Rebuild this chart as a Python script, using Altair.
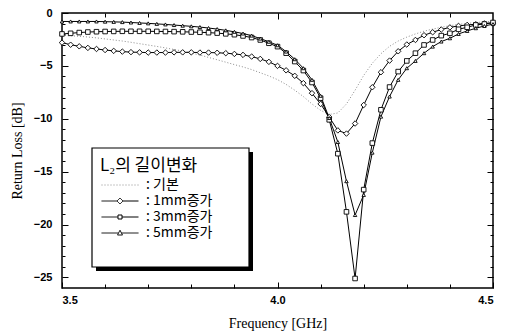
import altair as alt
import pandas as pd

freq = [3.50, 3.52, 3.54, 3.56, 3.58, 3.60, 3.62, 3.64, 3.66, 3.68,
        3.70, 3.72, 3.74, 3.76, 3.78, 3.80, 3.82, 3.84, 3.86, 3.88,
        3.90, 3.92, 3.94, 3.96, 3.98, 4.00, 4.02, 4.04, 4.06, 4.08,
        4.10, 4.12, 4.14, 4.16, 4.18, 4.20, 4.22, 4.24, 4.26, 4.28,
        4.30, 4.32, 4.34, 4.36, 4.38, 4.40, 4.42, 4.44, 4.46, 4.48, 4.50]

rl_base = [-2.10, -2.15, -2.20, -2.27, -2.35, -2.45, -2.55, -2.65, -2.77, -2.90,
           -3.03, -3.16, -3.30, -3.45, -3.60, -3.78, -3.98, -4.20, -4.42, -4.65,
           -4.88, -5.10, -5.35, -5.65, -5.95, -6.30, -6.75, -7.30, -7.90, -8.60,
           -9.20, -9.60, -9.45, -8.60, -7.30, -5.90, -4.75, -3.85, -3.15, -2.65,
           -2.28, -1.98, -1.72, -1.52, -1.35, -1.20, -1.08, -0.98, -0.90, -0.84, -0.78]

rl_1mm = [-2.80, -3.00, -3.15, -3.30, -3.40, -3.50, -3.58, -3.65, -3.70, -3.72,
          -3.74, -3.74, -3.74, -3.72, -3.72, -3.72, -3.74, -3.74, -3.76, -3.80,
          -3.87, -3.96, -4.12, -4.34, -4.62, -5.00, -5.42, -5.94, -6.63, -7.58,
          -8.60, -9.84, -11.10, -11.40, -10.45, -8.70, -7.02, -5.60, -4.50, -3.62,
          -2.98, -2.55, -2.10, -1.82, -1.56, -1.36, -1.22, -1.13, -1.06, -0.98, -0.95]

rl_3mm = [-1.98, -1.92, -1.85, -1.80, -1.77, -1.75, -1.74, -1.73, -1.73, -1.73,
          -1.73, -1.74, -1.75, -1.76, -1.78, -1.80, -1.82, -1.86, -1.90, -1.97,
          -2.05, -2.17, -2.32, -2.55, -2.86, -3.18, -3.80, -4.59, -5.44, -6.57,
          -8.05, -10.10, -13.30, -18.80, -25.10, -16.70, -12.30, -9.15, -7.00, -5.54,
          -4.53, -3.80, -3.02, -2.55, -2.14, -1.92, -1.54, -1.35, -1.13, -1.04, -0.90]

rl_5mm = [-0.80, -0.80, -0.80, -0.80, -0.80, -0.82, -0.84, -0.86, -0.90, -0.94,
          -0.98, -1.03, -1.08, -1.14, -1.20, -1.26, -1.33, -1.42, -1.52, -1.64,
          -1.78, -1.94, -2.14, -2.42, -2.72, -3.05, -3.65, -4.37, -5.22, -6.32,
          -7.83, -9.93, -12.20, -15.90, -19.10, -17.20, -13.20, -9.80, -7.90, -6.32,
          -5.22, -4.53, -3.80, -3.18, -2.70, -2.39, -1.98, -1.70, -1.44, -1.23, -1.05]

series_names = ["기본", "1mm증가", "3mm증가", "5mm증가"]
marker_series = ["1mm증가", "3mm증가", "5mm증가"]

x_major = [3.5, 4.0, 4.5]
x_minor = [3.6, 3.7, 3.8, 3.9, 4.1, 4.2, 4.3, 4.4]
x_top = [3.6, 3.7, 3.8, 3.9, 4.0, 4.1, 4.2, 4.3, 4.4]
y_major = [0, -5, -10, -15, -20, -25]
y_minor = [-1, -2, -3, -4, -6, -7, -8, -9, -11, -12, -13, -14, -16, -17, -18, -19,
           -21, -22, -23, -24]
y_right = [-1, -2, -3, -4, -5, -6, -7, -8, -9, -10, -11, -12, -13, -14, -15, -16, -17,
           -18, -19, -20, -21, -22, -23, -24, -25]

rows = []
for name, vals in zip(series_names, [rl_base, rl_1mm, rl_3mm, rl_5mm]):
    for f, v in zip(freq, vals):
        rows.append({"f": f, "rl": v, "series": name})
df = pd.DataFrame(rows)

KR = "Noto Sans CJK KR"
xs = alt.Scale(domain=[3.5, 4.5], nice=False, zero=False)
ys = alt.Scale(domain=[-26, 0], nice=False, zero=False)


def tick_axis(orient, values, size):
    return alt.Axis(orient=orient, values=values, tickSize=alt.ExprRef(expr=str(-size)),
                    labels=False, title=None, domain=False, grid=False, ticks=True)


x_main = alt.Axis(orient="bottom", values=x_major, format=".1f",
                  tickSize=alt.ExprRef(expr="-6"), labelPadding=12,
                  title="Frequency [GHz]", titlePadding=11, domain=False, grid=False)
y_main = alt.Axis(orient="left", values=y_major, format="d",
                  tickSize=alt.ExprRef(expr="-6"), labelPadding=16,
                  title="Return Loss [dB]", titlePadding=9, domain=False, grid=False)

base_line = alt.Chart(df).transform_filter(alt.datum.series == "기본").mark_line(
    color="#8c8c8c", strokeWidth=1, strokeDash=[1, 2]
).encode(
    x=alt.X("f:Q", scale=xs, axis=x_main),
    y=alt.Y("rl:Q", scale=ys, axis=y_main),
)

lines = alt.Chart(df).transform_filter(alt.datum.series != "기본").mark_line(
    color="black", strokeWidth=1
).encode(
    x=alt.X("f:Q", scale=xs, axis=tick_axis("bottom", x_minor, 4)),
    y=alt.Y("rl:Q", scale=ys, axis=tick_axis("left", y_minor, 3)),
    detail="series:N",
)

points = alt.Chart(df).transform_filter(alt.datum.series != "기본").mark_point(
    filled=True, fill="white", stroke="black", strokeWidth=0.9, opacity=1
).encode(
    x=alt.X("f:Q", scale=xs, axis=tick_axis("top", x_top, 4)),
    y=alt.Y("rl:Q", scale=ys, axis=tick_axis("right", y_right, 3)),
    shape=alt.Shape("series:N", scale=alt.Scale(domain=marker_series,
                    range=["diamond", "square", "triangle-up"]), legend=None),
    size=alt.Size("series:N", scale=alt.Scale(domain=marker_series,
                  range=[30, 12, 22]), legend=None),
)

sym_paths = [
    "M-3.7,0H3.7",
    "M-3.7,0H-0.6M0.6,0H3.7M-0.6,0L0,-0.6L0.6,0L0,0.6Z",
    "M-3.7,0H-0.4M0.4,0H3.7M-0.4,-0.4H0.4V0.4H-0.4Z",
    "M-3.7,0H-0.3M0.3,0H3.7M0,-0.55L0.5,0.4H-0.5Z",
]

leg = alt.Legend(
    orient="none", legendX=38, legendY=145, direction="vertical",
    title="L₂의 길이변화", titleFont=KR, titleFontSize=17, titleFontWeight="normal",
    titleColor="black", titlePadding=3, titleAnchor="start",
    labelFont=KR, labelFontSize=14, labelFontWeight="normal", labelColor="black",
    labelLimit=300, labelExpr="': ' + datum.label", labelOffset=19,
    symbolSize=100, symbolStrokeWidth=1, symbolOpacity=1, symbolOffset=13,
    rowPadding=2, padding=0,
)

legend_holder = alt.Chart(df).mark_point(filled=False).encode(
    x=alt.X("f:Q", scale=xs, axis=tick_axis("top", [4.0], 6)),
    y=alt.Y("rl:Q", scale=ys, axis=tick_axis("right", [-5, -10, -15, -20, -25], 6)),
    shape=alt.Shape("series:N", scale=alt.Scale(domain=series_names, range=sym_paths),
                    legend=leg),
    color=alt.Color("series:N", scale=alt.Scale(domain=series_names,
                    range=["#8c8c8c", "black", "black", "black"]), legend=leg),
    strokeDash=alt.StrokeDash("series:N", scale=alt.Scale(domain=series_names,
                              range=[[1, 2], [1, 0], [1, 0], [1, 0]]), legend=leg),
    opacity=alt.value(0),
)

one = pd.DataFrame({"k": [0]})
shadow = alt.Chart(one).mark_rect(color="black").encode(
    x=alt.value(34), x2=alt.value(191), y=alt.value(139), y2=alt.value(258)
)
box = alt.Chart(one).mark_rect(fill="white", stroke="black", strokeWidth=1.2).encode(
    x=alt.value(30), x2=alt.value(187), y=alt.value(135), y2=alt.value(254)
)

chart = alt.layer(base_line, lines, points, shadow, box, legend_holder).resolve_scale(
    shape="independent", size="independent", color="independent",
    strokeDash="independent"
).resolve_legend(
    shape="independent", color="independent", strokeDash="independent"
).resolve_axis(
    x="independent", y="independent"
).properties(
    width=431, height=275,
    autosize=alt.AutoSizeParams(type="none"),
    padding={"left": 62, "top": 13, "right": 14, "bottom": 48},
    background="white",
).configure_view(
    stroke="black", strokeWidth=1.5
).configure_axis(
    labelFont="Liberation Sans", labelFontWeight="bold", labelFontSize=11,
    labelColor="black", tickColor="black", tickWidth=1,
    titleFont="Liberation Serif", titleFontWeight="normal", titleFontSize=14,
    titleColor="black",
)

chart.save("out.html", embed_options={"renderer": "svg", "actions": False})
